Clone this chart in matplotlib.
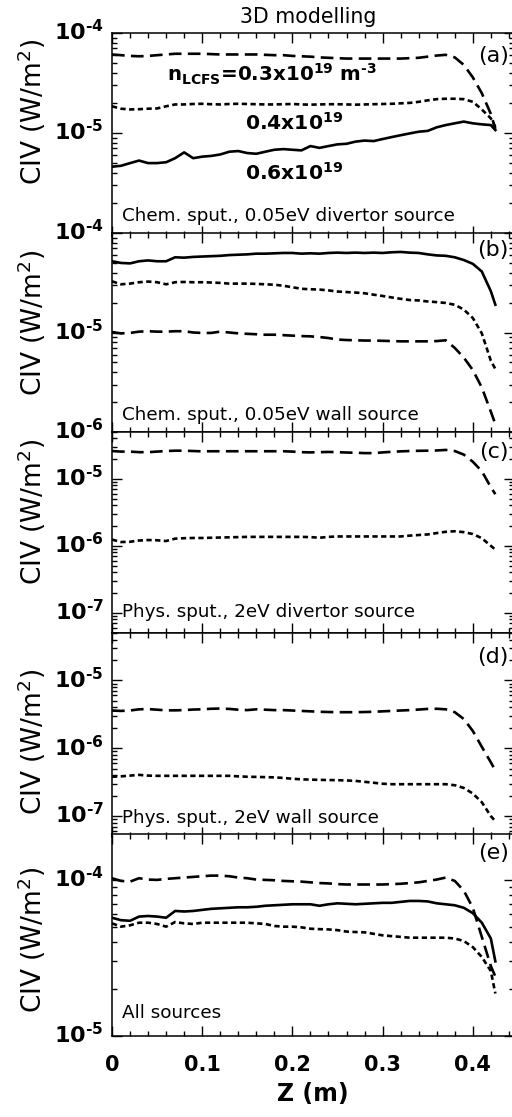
import matplotlib
matplotlib.use("Agg")
import matplotlib.pyplot as plt
import matplotlib.transforms as mtransforms
from matplotlib.ticker import MultipleLocator, LogLocator, FixedLocator, FixedFormatter, NullFormatter

# ---------------------------------------------------------------- data
# poloidal coordinate Z (m)
Z = [0.00, 0.01, 0.02, 0.03, 0.04, 0.05, 0.06, 0.07, 0.08, 0.09,
     0.10, 0.11, 0.12, 0.13, 0.14, 0.15, 0.16, 0.17, 0.18, 0.19,
     0.20, 0.21, 0.22, 0.23, 0.24, 0.25, 0.26, 0.27, 0.28, 0.29,
     0.30, 0.31, 0.32, 0.33, 0.34, 0.35, 0.36, 0.37, 0.38, 0.39,
     0.40, 0.41, 0.42, 0.425]

# (a) chemical sputtering, 0.05 eV, divertor source
a_n03 = [6.1e-5, 6.0e-5, 5.9e-5, 5.85e-5, 5.9e-5, 6.0e-5, 6.1e-5, 6.2e-5, 6.2e-5, 6.2e-5,
         6.2e-5, 6.15e-5, 6.1e-5, 6.1e-5, 6.1e-5, 6.1e-5, 6.1e-5, 6.05e-5, 6.0e-5, 6.0e-5,
         5.9e-5, 5.85e-5, 5.8e-5, 5.7e-5, 5.65e-5, 5.6e-5, 5.55e-5, 5.55e-5, 5.55e-5, 5.55e-5,
         5.55e-5, 5.55e-5, 5.55e-5, 5.6e-5, 5.65e-5, 5.8e-5, 5.95e-5, 6.05e-5, 5.7e-5, 4.8e-5,
         3.6e-5, 2.5e-5, 1.55e-5, 1.1e-5]
a_n04 = [1.85e-5, 1.75e-5, 1.72e-5, 1.73e-5, 1.75e-5, 1.76e-5, 1.85e-5, 1.93e-5, 1.93e-5, 1.95e-5,
         1.96e-5, 1.94e-5, 1.93e-5, 1.95e-5, 1.96e-5, 1.95e-5, 1.94e-5, 1.93e-5, 1.93e-5, 1.94e-5,
         1.95e-5, 1.93e-5, 1.92e-5, 1.93e-5, 1.94e-5, 1.94e-5, 1.93e-5, 1.92e-5, 1.93e-5, 1.94e-5,
         1.95e-5, 1.96e-5, 1.98e-5, 2.0e-5, 2.05e-5, 2.12e-5, 2.18e-5, 2.2e-5, 2.2e-5, 2.18e-5,
         2.05e-5, 1.72e-5, 1.4e-5, 1.15e-5]
a_n06 = [4.6e-6, 4.7e-6, 5.0e-6, 5.3e-6, 5.0e-6, 5.0e-6, 5.1e-6, 5.6e-6, 6.4e-6, 5.6e-6,
         5.8e-6, 5.9e-6, 6.1e-6, 6.5e-6, 6.6e-6, 6.3e-6, 6.2e-6, 6.5e-6, 6.8e-6, 6.9e-6,
         6.8e-6, 6.7e-6, 7.4e-6, 7.1e-6, 7.4e-6, 7.7e-6, 7.8e-6, 8.2e-6, 8.4e-6, 8.3e-6,
         8.7e-6, 9.1e-6, 9.5e-6, 9.9e-6, 1.03e-5, 1.05e-5, 1.14e-5, 1.2e-5, 1.25e-5, 1.3e-5,
         1.25e-5, 1.22e-5, 1.2e-5, 1.07e-5]

# (b) chemical sputtering, 0.05 eV, wall source
b_n03 = [1.01e-5, 9.8e-6, 9.9e-6, 1.02e-5, 1.03e-5, 1.02e-5, 1.02e-5, 1.03e-5, 1.03e-5, 1.0e-5,
         9.9e-6, 9.9e-6, 1.02e-5, 1.0e-5, 9.8e-6, 9.7e-6, 9.6e-6, 9.5e-6, 9.5e-6, 9.4e-6,
         9.3e-6, 9.2e-6, 9.15e-6, 9.0e-6, 8.8e-6, 8.5e-6, 8.4e-6, 8.35e-6, 8.3e-6, 8.3e-6,
         8.25e-6, 8.2e-6, 8.15e-6, 8.15e-6, 8.15e-6, 8.15e-6, 8.2e-6, 8.35e-6, 7.0e-6, 5.6e-6,
         4.2e-6, 2.8e-6, 1.6e-6, 1.2e-6]
b_n04 = [3.27e-5, 3.05e-5, 3.1e-5, 3.2e-5, 3.25e-5, 3.2e-5, 3.05e-5, 3.2e-5, 3.22e-5, 3.2e-5,
         3.2e-5, 3.18e-5, 3.15e-5, 3.1e-5, 3.1e-5, 3.1e-5, 3.08e-5, 3.05e-5, 3.02e-5, 2.95e-5,
         2.85e-5, 2.75e-5, 2.72e-5, 2.7e-5, 2.65e-5, 2.58e-5, 2.55e-5, 2.52e-5, 2.48e-5, 2.4e-5,
         2.33e-5, 2.25e-5, 2.18e-5, 2.12e-5, 2.1e-5, 2.05e-5, 2.02e-5, 1.98e-5, 1.9e-5, 1.7e-5,
         1.4e-5, 9.8e-6, 5.2e-6, 4.3e-6]
b_n06 = [5.2e-5, 5.0e-5, 4.95e-5, 5.2e-5, 5.3e-5, 5.2e-5, 5.2e-5, 5.7e-5, 5.65e-5, 5.75e-5,
         5.8e-5, 5.85e-5, 5.9e-5, 6.0e-5, 6.05e-5, 6.1e-5, 6.2e-5, 6.2e-5, 6.25e-5, 6.3e-5,
         6.3e-5, 6.2e-5, 6.25e-5, 6.2e-5, 6.3e-5, 6.35e-5, 6.3e-5, 6.35e-5, 6.3e-5, 6.35e-5,
         6.3e-5, 6.4e-5, 6.45e-5, 6.35e-5, 6.3e-5, 6.1e-5, 5.95e-5, 5.9e-5, 5.7e-5, 5.35e-5,
         4.9e-5, 4.1e-5, 2.6e-5, 1.9e-5]

# (c) physical sputtering, 2 eV, divertor source
c_n03 = [2.6e-5, 2.55e-5, 2.55e-5, 2.5e-5, 2.5e-5, 2.55e-5, 2.6e-5, 2.63e-5, 2.63e-5, 2.6e-5,
         2.57e-5, 2.58e-5, 2.58e-5, 2.58e-5, 2.58e-5, 2.58e-5, 2.58e-5, 2.58e-5, 2.58e-5, 2.58e-5,
         2.55e-5, 2.5e-5, 2.48e-5, 2.5e-5, 2.52e-5, 2.5e-5, 2.47e-5, 2.45e-5, 2.42e-5, 2.42e-5,
         2.48e-5, 2.53e-5, 2.57e-5, 2.6e-5, 2.62e-5, 2.63e-5, 2.65e-5, 2.7e-5, 2.6e-5, 2.3e-5,
         1.8e-5, 1.3e-5, 7.5e-6, 5.9e-6]
c_n04 = [1.24e-6, 1.14e-6, 1.15e-6, 1.2e-6, 1.22e-6, 1.21e-6, 1.18e-6, 1.28e-6, 1.3e-6, 1.31e-6,
         1.31e-6, 1.32e-6, 1.33e-6, 1.34e-6, 1.35e-6, 1.36e-6, 1.36e-6, 1.36e-6, 1.36e-6, 1.36e-6,
         1.36e-6, 1.36e-6, 1.35e-6, 1.32e-6, 1.36e-6, 1.38e-6, 1.38e-6, 1.38e-6, 1.38e-6, 1.38e-6,
         1.38e-6, 1.38e-6, 1.38e-6, 1.42e-6, 1.45e-6, 1.48e-6, 1.55e-6, 1.62e-6, 1.65e-6, 1.6e-6,
         1.5e-6, 1.3e-6, 1.0e-6, 8.8e-7]

# (d) physical sputtering, 2 eV, wall source
d_n03 = [3.6e-6, 3.55e-6, 3.6e-6, 3.75e-6, 3.78e-6, 3.7e-6, 3.62e-6, 3.62e-6, 3.65e-6, 3.72e-6,
         3.75e-6, 3.82e-6, 3.85e-6, 3.8e-6, 3.7e-6, 3.65e-6, 3.75e-6, 3.7e-6, 3.65e-6, 3.65e-6,
         3.6e-6, 3.55e-6, 3.5e-6, 3.45e-6, 3.42e-6, 3.4e-6, 3.4e-6, 3.4e-6, 3.42e-6, 3.45e-6,
         3.5e-6, 3.55e-6, 3.6e-6, 3.65e-6, 3.72e-6, 3.8e-6, 3.82e-6, 3.75e-6, 3.4e-6, 2.7e-6,
         1.8e-6, 1.05e-6, 6.2e-7, 4.7e-7]
d_n04 = [3.8e-7, 3.85e-7, 3.95e-7, 4.05e-7, 3.95e-7, 3.92e-7, 3.92e-7, 3.92e-7, 3.92e-7, 3.92e-7,
         3.92e-7, 3.92e-7, 3.92e-7, 3.92e-7, 3.85e-7, 3.8e-7, 3.78e-7, 3.75e-7, 3.72e-7, 3.65e-7,
         3.55e-7, 3.48e-7, 3.45e-7, 3.42e-7, 3.4e-7, 3.38e-7, 3.35e-7, 3.3e-7, 3.2e-7, 3.1e-7,
         3.0e-7, 2.95e-7, 2.95e-7, 2.95e-7, 2.95e-7, 2.95e-7, 2.95e-7, 2.95e-7, 2.85e-7, 2.6e-7,
         2.15e-7, 1.6e-7, 1.0e-7, 8.4e-8]

# (e) all sources
e_n03 = [1.02e-4, 9.8e-5, 9.7e-5, 1.02e-4, 1.0e-4, 9.95e-5, 1.01e-4, 1.02e-4, 1.03e-4, 1.04e-4,
         1.05e-4, 1.06e-4, 1.06e-4, 1.05e-4, 1.03e-4, 1.02e-4, 1.0e-4, 9.95e-5, 9.9e-5, 9.8e-5,
         9.75e-5, 9.7e-5, 9.6e-5, 9.5e-5, 9.45e-5, 9.35e-5, 9.3e-5, 9.3e-5, 9.3e-5, 9.3e-5,
         9.3e-5, 9.35e-5, 9.4e-5, 9.5e-5, 9.6e-5, 9.8e-5, 1.0e-4, 1.03e-4, 9.8e-5, 8.5e-5,
         6.6e-5, 4.3e-5, 2.8e-5, 2.4e-5]
e_n04 = [5.25e-5, 5.0e-5, 5.1e-5, 5.3e-5, 5.3e-5, 5.2e-5, 5.0e-5, 5.35e-5, 5.25e-5, 5.2e-5,
         5.3e-5, 5.3e-5, 5.3e-5, 5.3e-5, 5.3e-5, 5.3e-5, 5.25e-5, 5.2e-5, 5.05e-5, 5.0e-5,
         5.0e-5, 4.95e-5, 4.85e-5, 4.82e-5, 4.8e-5, 4.75e-5, 4.65e-5, 4.62e-5, 4.6e-5, 4.5e-5,
         4.4e-5, 4.35e-5, 4.3e-5, 4.25e-5, 4.25e-5, 4.25e-5, 4.25e-5, 4.25e-5, 4.2e-5, 4.05e-5,
         3.7e-5, 3.2e-5, 2.6e-5, 1.87e-5]
e_n06 = [5.7e-5, 5.5e-5, 5.45e-5, 5.8e-5, 5.85e-5, 5.8e-5, 5.7e-5, 6.3e-5, 6.25e-5, 6.3e-5,
         6.4e-5, 6.5e-5, 6.55e-5, 6.6e-5, 6.65e-5, 6.65e-5, 6.7e-5, 6.8e-5, 6.85e-5, 6.9e-5,
         6.95e-5, 6.95e-5, 6.95e-5, 6.8e-5, 6.95e-5, 7.05e-5, 7.0e-5, 6.95e-5, 7.0e-5, 7.05e-5,
         7.1e-5, 7.1e-5, 7.2e-5, 7.3e-5, 7.3e-5, 7.25e-5, 7.05e-5, 6.95e-5, 6.85e-5, 6.6e-5,
         6.1e-5, 5.3e-5, 4.2e-5, 3.0e-5]

panel_tags = ["(a)", "(b)", "(c)", "(d)", "(e)"]
panel_notes = ["Chem. sput., 0.05eV divertor source",
               "Chem. sput., 0.05eV wall source",
               "Phys. sput., 2eV divertor source",
               "Phys. sput., 2eV wall source",
               "All sources"]
density_labels = ["$\\mathbf{n_{LCFS}}$=0.3x10$^{\\mathbf{19}}$ m$^{\\mathbf{\u20103}}$",
                  "0.4x10$^{\\mathbf{19}}$",
                  "0.6x10$^{\\mathbf{19}}$"]
xtick_values = [0.0, 0.1, 0.2, 0.3, 0.4]
xtick_labels = ["0", "0.1", "0.2", "0.3", "0.4"]


def decade_label(exp):
    # bold power of ten with a short hyphen as the sign
    return "$\\mathbf{10^{\u2010%d}}$" % exp


series = [
    {"n03": a_n03, "n04": a_n04, "n06": a_n06},
    {"n03": b_n03, "n04": b_n04, "n06": b_n06},
    {"n03": c_n03, "n04": c_n04},
    {"n03": d_n03, "n04": d_n04},
    {"n03": e_n03, "n04": e_n04, "n06": e_n06},
]
decades = [[1e-4, 1e-5, 1e-6], [1e-4, 1e-5, 1e-6], [1e-5, 1e-6, 1e-7],
           [1e-5, 1e-6, 1e-7], [1e-4, 1e-5]]
decade_exps = [[4, 5, None], [4, 5, 6], [5, 6, 7], [5, 6, 7], [4, 5]]

# ---------------------------------------------------------------- layout / style
W, H = 512, 1117
fig = plt.figure(figsize=(W / 100, H / 100), dpi=100)
plt.rcParams["mathtext.fontset"] = "dejavusans"

left_px, right_px = 112, 513.5
px_per_unit = 902.0
xmax = (right_px - left_px) / px_per_unit

# (top, bottom) pixel rows and y-limits of each panel
boxes = [(33, 235.5), (233, 432), (432, 633), (633, 836.5), (833.5, 1036)]
ylims = [(10 ** -6.025, 1e-4), (1e-6, 1e-4), (5e-8, 5e-5), (5e-8, 5e-5), (1e-5, 1.97e-4)]
tag_y = [0.885, 0.915, 0.9, 0.88, 0.905]
note_y = [0.072, 0.06, 0.081, 0.066, 0.088]
ylabel_cy = [112, 323, 512, 742, 940]

styles = {
    "n03": dict(color="black", lw=1.9, linestyle=(0, (4.8, 2.4)), dash_capstyle="butt"),
    "n04": dict(color="black", lw=1.9, linestyle=(0, (2.0, 1.3)), dash_capstyle="butt"),
    "n06": dict(color="black", lw=1.9, linestyle="-"),
}

raise_labels = mtransforms.ScaledTranslation(0, 3 / 100, fig.dpi_scale_trans)

axes = []
for i, (top, bot) in enumerate(boxes):
    ax = fig.add_axes([left_px / W, 1 - bot / H, (right_px - left_px) / W, (bot - top) / H])
    axes.append(ax)
    for key, vals in series[i].items():
        ax.plot(Z, vals, **styles[key])
    ax.set_yscale("log")
    ax.set_xlim(0, xmax)
    ax.set_ylim(*ylims[i])

    ax.yaxis.set_major_locator(FixedLocator(decades[i]))
    ax.yaxis.set_major_formatter(FixedFormatter(
        [decade_label(e) if e is not None else "" for e in decade_exps[i]]))
    ax.yaxis.set_minor_locator(LogLocator(base=10, subs=range(2, 10), numticks=20))
    ax.yaxis.set_minor_formatter(NullFormatter())
    ax.xaxis.set_major_locator(FixedLocator(xtick_values))
    ax.xaxis.set_minor_locator(MultipleLocator(0.02))
    if i == 4:
        ax.xaxis.set_major_formatter(FixedFormatter(xtick_labels))
    else:
        ax.xaxis.set_major_formatter(NullFormatter())

    ax.tick_params(which="both", direction="in", top=True, right=True, width=1.0)
    ax.tick_params(which="major", length=7)
    ax.tick_params(which="minor", length=3.8)
    ax.tick_params(axis="y", which="major", pad=6, labelsize=16)
    ax.tick_params(axis="x", which="major", pad=14, labelsize=15)
    for lab in ax.get_xticklabels():
        lab.set_fontweight("bold")
    for lab in ax.get_yticklabels():
        lab.set_transform(lab.get_transform() + raise_labels)
    for sp in ax.spines.values():
        sp.set_linewidth(1.1)

    ax.text(0.988, tag_y[i], panel_tags[i], transform=ax.transAxes,
            ha="right", va="center", fontsize=16)
    ax.text(0.024, note_y[i], panel_notes[i], transform=ax.transAxes,
            ha="left", va="baseline", fontsize=13.2)
    fig.text(32 / W, 1 - ylabel_cy[i] / H, r"CIV (W/m$^2$)", rotation=90,
             ha="center", va="center", fontsize=19)

axes[4].set_xlabel("Z (m)", fontsize=17, fontweight="bold", labelpad=5)

# density labels in panel (a)
axes[0].text(0.061, 3.3e-5, density_labels[0], fontsize=14.3, fontweight="bold",
             ha="left", va="baseline")
axes[0].text(0.147, 1.07e-5, density_labels[1], fontsize=14.6, fontweight="bold",
             ha="left", va="baseline")
axes[0].text(0.147, 3.39e-6, density_labels[2], fontsize=14.6, fontweight="bold",
             ha="left", va="baseline")

fig.text(308 / W, 1 - 23 / H, "3D modelling", ha="center", va="baseline", fontsize=14.8)

fig.savefig("out.png", dpi=100)
